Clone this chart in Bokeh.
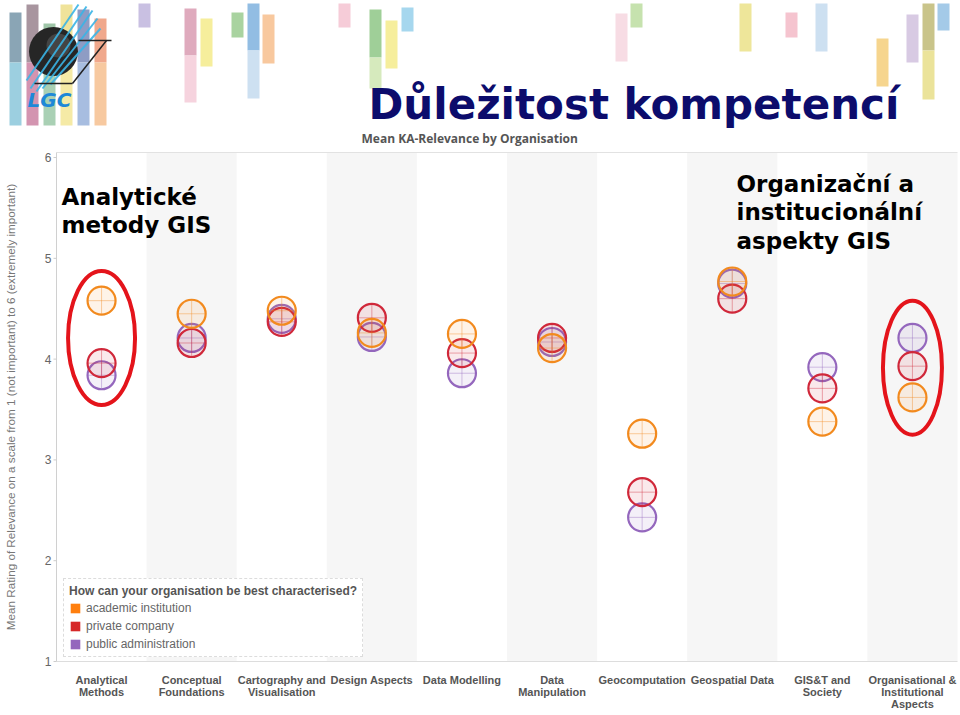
import math
from bokeh.plotting import figure
from bokeh.models import Range1d, Legend, LegendItem, ColumnDataSource
from bokeh.core.properties import value
from bokeh.embed import file_html
from bokeh.resources import INLINE

# ---------------- data ----------------
categories = ["Analytical Methods", "Conceptual Foundations", "Cartography and Visualisation",
              "Design Aspects", "Data Modelling", "Data Manipulation", "Geocomputation",
              "Geospatial Data", "GIS&T and Society", "Organisational & Institutional Aspects"]
tick_labels = ["Analytical\nMethods", "Conceptual\nFoundations", "Cartography and\nVisualisation",
               "Design Aspects", "Data Modelling", "Data\nManipulation", "Geocomputation",
               "Geospatial Data", "GIS&T and\nSociety", "Organisational &\nInstitutional\nAspects"]
series = ["academic institution", "private company", "public administration"]
academic = [4.58, 4.45, 4.48, 4.26, 4.25, 4.11, 3.26, 4.77, 3.38, 3.62]
private = [3.96, 4.16, 4.37, 4.41, 4.06, 4.21, 2.68, 4.60, 3.71, 3.93]
public = [3.84, 4.21, 4.40, 4.22, 3.86, 4.17, 2.43, 4.75, 3.92, 4.21]
series_colors = ["#f28a1e", "#d0283a", "#9467bd"]
legend_colors = ["#ff7f0e", "#d62728", "#9467bd"]
y_ticks = [1, 2, 3, 4, 5, 6]
y_min, y_max = 1, 6.05
highlighted = ["Analytical Methods", "Organisational & Institutional Aspects"]

title_text = "Důležitost kompetencí"
subtitle_text = "Mean KA-Relevance by Organisation"
note_left = ["Analytické", "metody GIS"]
note_right = ["Organizační a", "institucionální", "aspekty GIS"]
y_title = "Mean Rating of Relevance on a scale from 1 (not important) to 6 (extremely important)"
legend_title = "How can your organisation be best characterised?"

# decorative header stripes (slide design, page pixels)
stripe_left = [138, 184, 184, 200, 231, 247, 247, 262, 338, 369, 369, 385, 401, 615, 630, 739, 785, 815, 876, 906, 922, 922, 937]
stripe_top = [3, 8, 55, 18, 12, 3, 50, 14, 3, 9, 57, 20, 7, 13, 3, 3, 12, 3, 38, 14, 3, 50, 3]
stripe_bottom = [27, 55, 102, 66, 37, 50, 98, 63, 27, 57, 88, 68, 31, 61, 27, 51, 37, 51, 86, 62, 50, 99, 30]
stripe_color = ["#c9c0e2", "#dfaabd", "#f6d3de", "#f6ee9c", "#a9d3a0", "#92bde3", "#cde0f1", "#f8c89e",
                "#f6ccd8", "#9fcf98", "#d6eabd", "#f6ee9c", "#a6d7ee", "#f7dce4", "#c6e2ae", "#eee69a",
                "#f5c4cf", "#cde0f1", "#f6d58e", "#d8cae3", "#c9c48a", "#ebe39a", "#a4cae8"]
# logo (page pixels)
logo_left = [9, 26, 43, 60, 77, 94]
logo_top = [12, 4, 23, 4, 9, 18]
logo_color = ["#8aa5b5", "#a8959f", "#9fc5a8", "#f0e39a", "#8e9cc4", "#f0a88c"]
logo_low_color = ["#9ccfe0", "#d394b0", "#a9d0b4", "#f5eaa6", "#a7bde0", "#f7c9a0"]
streaks = [(26, 80, 78, 4), (30, 88, 86, 6), (36, 91, 92, 10), (42, 88, 97, 18), (50, 84, 100, 28)]
logo_frame = [(78, 40, 111, 40), (106, 40, 72, 83), (72, 83, 34, 83)]

# ---------------- page geometry ----------------
W, H = 960, 715
PLOT_L, PLOT_R, PLOT_T, PLOT_B = 56, 957, 152, 661
col_w = (PLOT_R - PLOT_L) / len(categories)
unit_h = (PLOT_B - PLOT_T) / (y_max - y_min)


def xd(x):  # page pixel -> x data
    return (x - PLOT_L) / col_w


def yd(y):  # page pixel -> y data
    return y_min + (PLOT_B - y) / unit_h


cx = [k + 0.5 for k in range(len(categories))]  # category centres

p = figure(width=W, height=H, x_range=Range1d(xd(0), xd(W)), y_range=Range1d(yd(H), yd(0)),
           output_backend="svg", toolbar_location=None, min_border=0, title=None,
           x_axis_location=None, y_axis_location=None, outline_line_color=None,
           background_fill_color="white", border_fill_color="white")
p.grid.visible = False

# alternating bands
p.vbar(x=cx[1::2], width=1, bottom=y_min, top=y_max, fill_color="#f6f6f6", line_color=None)
# plot frame lines
p.segment(x0=[0, 0, 0], y0=[y_max, y_min, y_min], x1=[len(categories), len(categories), 0],
          y1=[y_max, y_min, y_max], line_color=["#e2e2e2", "#dddddd", "#d0d0d0"], line_width=1)

# y axis ticks and labels
p.segment(x0=[xd(PLOT_L - 3)] * len(y_ticks), y0=y_ticks, x1=[0] * len(y_ticks), y1=y_ticks,
          line_color="#cccccc", line_width=1)
p.text(x=[xd(PLOT_L - 5)] * len(y_ticks), y=y_ticks, text=[str(t) for t in y_ticks],
       text_align="right", text_baseline="middle", text_font=value("Liberation Sans"),
       text_font_size="12px", text_color="#666666")
p.text(x=[xd(10)], y=[(y_min + y_max) / 2], text=[y_title], angle=math.pi / 2,
       text_align="center", text_baseline="middle", text_font=value("Liberation Sans"),
       text_font_size="11.7px", text_color="#777777")

# x category labels (multi-line)
lx, ly, lt = [], [], []
for k, lab in enumerate(tick_labels):
    for j, line in enumerate(lab.split("\n")):
        lx.append(cx[k])
        ly.append(yd(PLOT_B + 12 + 12.2 * j))
        lt.append(line)
p.text(x=lx, y=ly, text=lt, text_align="center", text_baseline="top",
       text_font=value("Liberation Sans"), text_font_size="11px", text_font_style="bold",
       text_color="#555555")

# data points
data = {"academic institution": academic, "private company": private, "public administration": public}
for i in [2, 1, 0]:
    name = series[i]
    src = ColumnDataSource(dict(x=cx, y=data[name]))
    p.scatter("x", "y", source=src, marker="circle", size=28, fill_color=series_colors[i],
              fill_alpha=0.1, line_color=series_colors[i], line_width=2.2)
    p.scatter("x", "y", source=src, marker="cross", size=27, line_color=series_colors[i],
              line_width=1, line_alpha=0.4)

# highlight ellipses
hl_x, hl_y = [], []
for c in highlighted:
    k = categories.index(c)
    vals = [academic[k], private[k], public[k]]
    hl_x.append(cx[k])
    hl_y.append((max(vals) + min(vals)) / 2)
p.ellipse(x=hl_x, y=hl_y, width=[67, 59], height=[134, 134], width_units="screen",
          height_units="screen", fill_color=None, line_color="#e4141b", line_width=4)

# legend with square swatches (zero-size rects carry the legend entries)
items = []
for i, name in enumerate(series):
    r = p.rect(x=cx, y=data[name], width=0, height=0, fill_color=legend_colors[i],
               line_color=None)
    items.append(LegendItem(label=name, renderers=[r]))
legend = Legend(items=items, location=(63, H - 657), title=legend_title,
                title_text_font="Liberation Sans", title_text_font_size="12px",
                title_text_font_style="bold", title_text_color="#555555", title_standoff=3,
                label_text_font="Liberation Sans", label_text_font_size="12px",
                label_text_color="#666666", glyph_width=12, glyph_height=12,
                label_height=13, spacing=4, padding=5, margin=0,
                border_line_color="#bbbbbb", border_line_dash="1 1", border_line_width=1,
                background_fill_color="white", background_fill_alpha=1)
p.add_layout(legend, "center")

# notes in the plot
note_style = dict(text_font=value("DejaVu Sans"), text_font_size="23px", text_font_style="bold",
                  text_color="black", text_baseline="top")
p.text(x=[xd(61)] * 2, y=[yd(183 + 28 * j) for j in range(2)], text=note_left, **note_style)
p.text(x=[xd(736)] * 3, y=[yd(170 + 28.5 * j) for j in range(3)], text=note_right, **note_style)

# header decoration
p.quad(left=[xd(l) for l in stripe_left], right=[xd(l + 12) for l in stripe_left],
       top=[yd(t) for t in stripe_top], bottom=[yd(b) for b in stripe_bottom],
       fill_color=stripe_color, line_color=None)
p.quad(left=[xd(l) for l in logo_left], right=[xd(l + 12) for l in logo_left],
       top=[yd(t) for t in logo_top], bottom=[yd(62)] * 6, fill_color=logo_color, line_color=None)
p.quad(left=[xd(l) for l in logo_left], right=[xd(l + 12) for l in logo_left],
       top=[yd(62)] * 6, bottom=[yd(125)] * 6, fill_color=logo_low_color, line_color=None)
p.scatter(x=[xd(53)], y=[yd(51)], marker="circle", size=49, fill_color="#262626", line_color=None)
p.scatter(x=[xd(58)], y=[yd(45)], marker="circle", size=24, fill_color="#6a6a6a",
          fill_alpha=0.45, line_color=None)
p.segment(x0=[xd(s[0]) for s in streaks], y0=[yd(s[1]) for s in streaks],
          x1=[xd(s[2]) for s in streaks], y1=[yd(s[3]) for s in streaks],
          line_color="#3ab4e6", line_width=2, line_alpha=0.9)
p.segment(x0=[xd(s[0]) for s in logo_frame], y0=[yd(s[1]) for s in logo_frame],
          x1=[xd(s[2]) for s in logo_frame], y1=[yd(s[3]) for s in logo_frame],
          line_color="#222222", line_width=1.5)
p.text(x=[xd(27)], y=[yd(87)], text=["LGC"], text_font=value("DejaVu Sans"),
       text_font_size="20px", text_font_style="bold italic", text_color="#1e88d8",
       text_baseline="top")
p.text(x=[xd(368)], y=[yd(79)], text=[title_text], text_font=value("DejaVu Sans"),
       text_font_size="42px", text_font_style="bold", text_color="#0c0c6c", text_baseline="top")
p.text(x=[xd(361)], y=[yd(129)], text=[subtitle_text], text_font=value("Open Sans"),
       text_font_size="12px", text_font_style="bold", text_color="#555555", text_baseline="top")

open("out.html", "w").write(file_html(p, INLINE))
